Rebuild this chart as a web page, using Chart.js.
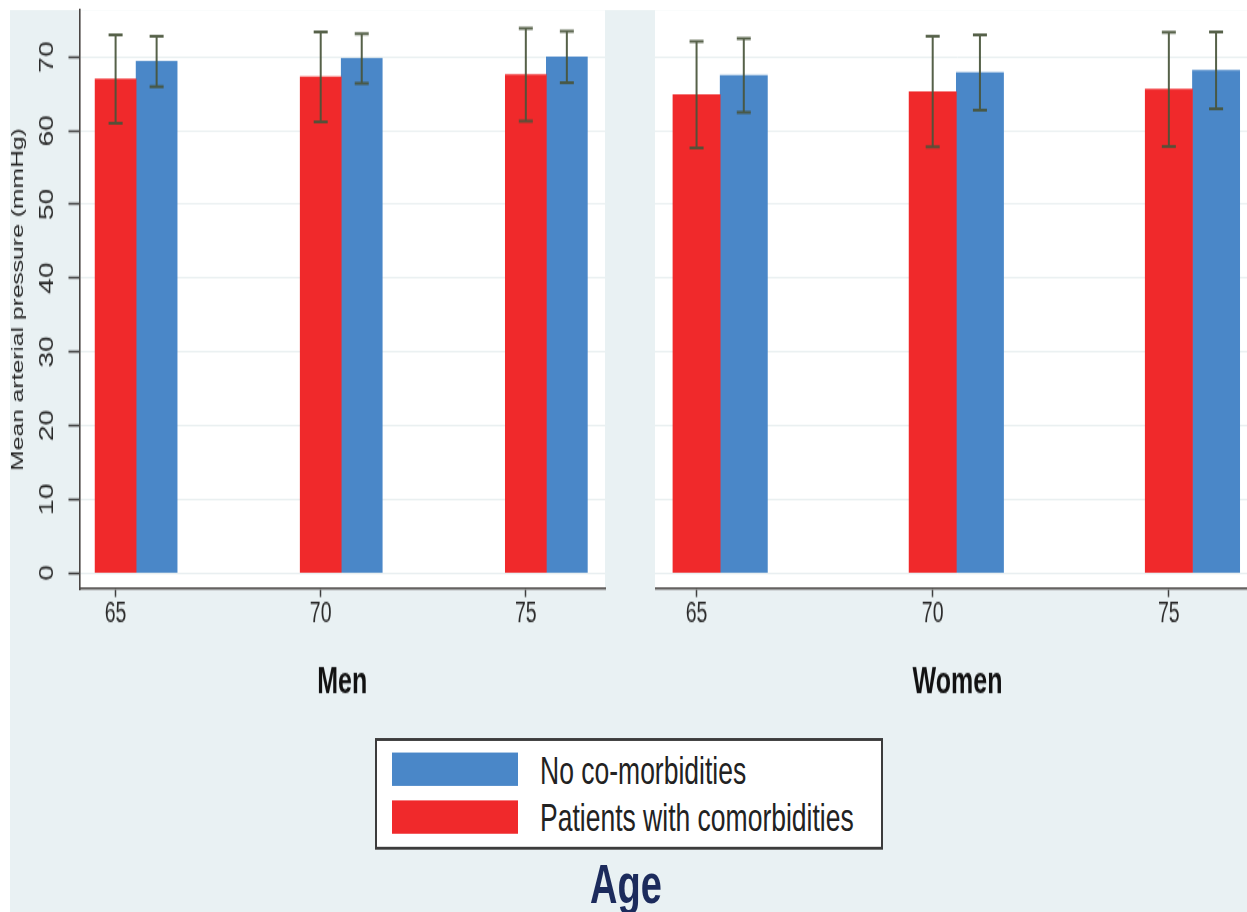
<!DOCTYPE html>
<html>
<head>
<meta charset="utf-8">
<title>Mean arterial pressure by age</title>
<script src="https://cdn.jsdelivr.net/npm/chart.js@4/dist/chart.umd.min.js"></script>
<style>
  html, body { margin: 0; padding: 0; width: 1247px; height: 912px; overflow: hidden; background: #fff; }
  /* the figure is laid out at 1/1.45 of its height and stretched vertically */
  #figure { position: absolute; left: 0; top: 0; width: 1247px; height: 629px; overflow: hidden;
            transform: scaleY(1.45); transform-origin: 0 0; font-family: "Liberation Sans", Arial, sans-serif; }
  #backdrop { position: absolute; left: 10px; top: 7px; right: 0; bottom: 0; background: #e9f1f3; }
  #men { position: absolute; left: 0; top: 0; }
  #women { position: absolute; left: 655px; top: 0; }
  #legend { position: absolute; left: 375px; top: 509px; width: 508px; height: 77px; box-sizing: border-box;
            background: #fff; border: 2px solid #3c3c3c; }
  .swatch { position: absolute; left: 15px; width: 126px; height: 23px; }
  .entry { position: absolute; left: 163px; font-size: 26.5px; line-height: 30px; color: #222; white-space: nowrap; }
  #xtitle { position: absolute; left: 0; width: 1252px; top: 589px; text-align: center; font-size: 38px;
            line-height: 42px; font-weight: bold; color: #1c2b5c; }
</style>
</head>
<body>
<div id="figure">
  <div id="backdrop"></div>
  <canvas id="men" width="612" height="500"></canvas>
  <canvas id="women" width="605" height="500"></canvas>
  <div id="legend"></div>
  <div id="xtitle"></div>
</div>
<script>
// Age groups and tick labels
const AGES = [65, 70, 75];
const Y_TICKS = [0, 10, 20, 30, 40, 50, 60, 70];

// Mean arterial pressure (mmHg), mean and standard deviation per age group
const MEN_NO_COMORB = [69.4, 69.8, 70.0];
const MEN_NO_COMORB_SD = [3.4, 3.35, 3.5];
const MEN_COMORB = [67.0, 67.3, 67.6];
const MEN_COMORB_SD = [6.0, 6.1, 6.3];

const WOMEN_NO_COMORB = [67.5, 67.9, 68.2];
const WOMEN_NO_COMORB_SD = [5.0, 5.1, 5.2];
const WOMEN_COMORB = [64.9, 65.3, 65.6];
const WOMEN_COMORB_SD = [7.25, 7.5, 7.75];

const SERIES_LABELS = ['No co-morbidities', 'Patients with comorbidities'];
const PANEL_TITLES = ['Men', 'Women'];
const Y_TITLE = 'Mean arterial pressure (mmHg)';
const X_TITLE = 'Age';

// Each group is a pair of one-year-wide bars: comorbid at the age, no comorbidity one year right of it
const PAIR_STEP = 1;

const FONT = '"Liberation Sans", Arial, sans-serif';
const RED = '#f0292b';
const BLUE = '#4a87c8';
const AXIS_COLOR = '#4a4644';

// white plot region
const plotBackground = {
  id: 'plotBackground',
  beforeDraw(chart) {
    const { ctx, chartArea: a } = chart;
    ctx.save();
    ctx.fillStyle = '#ffffff';
    ctx.fillRect(a.left, a.top, a.right - a.left, a.bottom - a.top);
    ctx.restore();
  }
};

// +/- 1 SD caps drawn over each bar
const errorBars = {
  id: 'errorBars',
  afterDatasetsDraw(chart) {
    const { ctx } = chart;
    const y = chart.scales.y;
    chart.data.datasets.forEach((ds, i) => {
      const meta = chart.getDatasetMeta(i);
      meta.data.forEach((bar, j) => {
        const m = ds.data[j].y, s = ds.sd[j];
        const top = y.getPixelForValue(m + s);
        const bot = y.getPixelForValue(m - s);
        const half = 7;
        ctx.save();
        ctx.strokeStyle = 'rgba(72, 84, 58, 0.92)';
        ctx.lineWidth = 2;
        ctx.beginPath();
        ctx.moveTo(bar.x, top); ctx.lineTo(bar.x, bot);
        ctx.moveTo(bar.x - half, top); ctx.lineTo(bar.x + half, top);
        ctx.moveTo(bar.x - half, bot); ctx.lineTo(bar.x + half, bot);
        ctx.stroke();
        ctx.restore();
      });
    });
  }
};

// fixed axis boxes so both panels share the same plot height
function fixBox(size, horizontal) {
  return s => {
    if (horizontal) s.height = size; else s.width = size;
    s.paddingTop = 0; s.paddingBottom = 0; s.paddingLeft = 0; s.paddingRight = 0;
  };
}

function makePanel(canvasId, title, comorb, comorbSd, none, noneSd, withYAxis, padRight) {
  return new Chart(document.getElementById(canvasId), {
    type: 'bar',
    data: {
      datasets: [
        {
          label: SERIES_LABELS[1],
          data: AGES.map((a, i) => ({ x: a, y: comorb[i] })),
          sd: comorbSd,
          backgroundColor: RED
        },
        {
          label: SERIES_LABELS[0],
          data: AGES.map((a, i) => ({ x: a + PAIR_STEP, y: none[i] })),
          sd: noneSd,
          backgroundColor: BLUE
        }
      ]
    },
    options: {
      responsive: false,
      animation: false,
      devicePixelRatio: 1,
      layout: { padding: { left: 0, right: padRight, top: 6.9, bottom: 13.8 } },
      datasets: { bar: { grouped: false, categoryPercentage: 1, barPercentage: 1, borderWidth: 0 } },
      plugins: { legend: { display: false }, tooltip: { enabled: false } },
      scales: {
        x: {
          type: 'linear',
          min: 64.12,
          max: 76.93,
          offset: false,
          afterBuildTicks: s => { s.ticks = AGES.map(v => ({ value: v })); },
          afterFit: fixBox(80, true),
          ticks: { callback: v => String(v), autoSkip: false, maxRotation: 0, padding: 0,
                   font: { family: FONT, size: 19.5 }, color: '#2a2a2a' },
          grid: { offset: false, drawOnChartArea: false, drawTicks: true, tickLength: 5.5,
                  tickColor: '#3f3f3f', tickWidth: 1.5 },
          border: { display: true, color: AXIS_COLOR, width: 1.6 },
          title: { display: true, text: title, color: '#111',
                   font: { family: FONT, size: 25, weight: 'bold' }, padding: { top: 0, bottom: 0 } }
        },
        y: {
          type: 'linear',
          min: -2.17,
          max: 76.38,
          afterBuildTicks: s => { s.ticks = Y_TICKS.map(v => ({ value: v })); },
          afterFit: fixBox(withYAxis ? 79.5 : 0, false),
          ticks: { display: withYAxis, callback: v => String(v), minRotation: 90, maxRotation: 90,
                   crossAlign: 'center', padding: 10.5, font: { family: FONT, size: 19.5 }, color: '#2a2a2a' },
          grid: { color: '#e9eff1', lineWidth: 1, drawTicks: withYAxis, tickLength: 11,
                  tickColor: '#3f3f3f', tickWidth: 1.5 },
          border: { display: withYAxis, color: AXIS_COLOR, width: 1.6 },
          title: { display: withYAxis, text: Y_TITLE, color: '#222',
                   font: { family: FONT, size: 17 }, padding: { top: 8, bottom: 0 } }
        }
      }
    },
    plugins: [plotBackground, errorBars]
  });
}

const men = makePanel('men', PANEL_TITLES[0], MEN_COMORB, MEN_COMORB_SD, MEN_NO_COMORB, MEN_NO_COMORB_SD, true, 7);
makePanel('women', PANEL_TITLES[1], WOMEN_COMORB, WOMEN_COMORB_SD, WOMEN_NO_COMORB, WOMEN_NO_COMORB_SD, false, 0);

// legend box built from the dataset labels and colours (no-comorbidity entry first)
const legend = document.getElementById('legend');
const rows = [
  { swatchTop: 7.7, textTop: 6.4 },
  { swatchTop: 40.8, textTop: 38.2 }
];
men.data.datasets.slice().reverse().forEach((ds, i) => {
  const sw = document.createElement('div');
  sw.className = 'swatch';
  sw.style.top = rows[i].swatchTop + 'px';
  sw.style.background = ds.backgroundColor;
  legend.appendChild(sw);
  const tx = document.createElement('div');
  tx.className = 'entry';
  tx.style.top = rows[i].textTop + 'px';
  tx.textContent = ds.label;
  legend.appendChild(tx);
});
document.getElementById('xtitle').textContent = X_TITLE;
</script>
</body>
</html>
